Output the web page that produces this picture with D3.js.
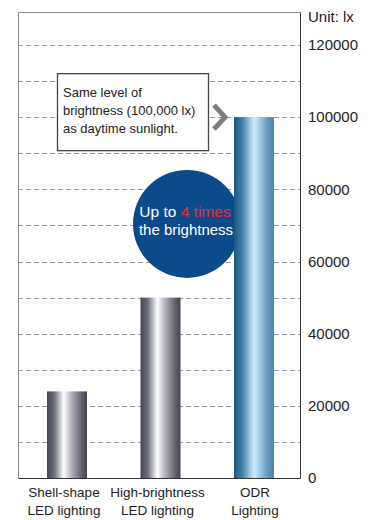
<!DOCTYPE html>
<html>
<head>
<meta charset="utf-8">
<script src="https://cdn.jsdelivr.net/npm/d3@7"></script>
<style>
html,body{margin:0;padding:0;background:#fff;}
svg{display:block;font-family:"Liberation Sans",Arial,Helvetica,sans-serif;}
</style>
</head>
<body>
<svg id="chart" width="368" height="520"></svg>
<script>
const categories = ["Shell-shape", "High-brightness", "ODR"];
const categoryLines = [["Shell-shape", "LED lighting"], ["High-brightness", "LED lighting"], ["ODR", "Lighting"]];
const values = [24000, 50000, 100000];
const tickValues = [0, 20000, 40000, 60000, 80000, 100000, 120000];
const gridValues = [10000, 20000, 30000, 40000, 50000, 60000, 70000, 80000, 90000, 100000, 110000, 120000];
const unitLabel = "Unit: lx";
const calloutLines = ["Same level of", "brightness (100,000 lx)", "as daytime sunlight."];
const calloutValue = 100000;

(function () {
const svg = d3.select("#chart");
const pL = 18, pR = 300, pT = 12, pB = 478;
const y = d3.scaleLinear().domain([0, 120000]).range([pB, 45]);
const x = d3.scalePoint().domain(categories).range([67, 254]);
const barW = 40;

// gradients
const defs = svg.append("defs");
const grayGrad = defs.append("linearGradient").attr("id", "gGray").attr("x1", "0").attr("x2", "1").attr("y1", "0").attr("y2", "0");
[[0, "#434553"], [0.18, "#6c6e7b"], [0.42, "#ffffff"], [0.6, "#b5b6c0"], [0.85, "#656773"], [1, "#414351"]].forEach(s =>
  grayGrad.append("stop").attr("offset", s[0]).attr("stop-color", s[1]));
const blueGrad = defs.append("linearGradient").attr("id", "gBlue").attr("x1", "0").attr("x2", "1").attr("y1", "0").attr("y2", "0");
[[0, "#1a5780"], [0.2, "#3f7fa6"], [0.5, "#cfe9f8"], [0.62, "#a9d0ea"], [0.85, "#6497bd"], [1, "#4f83aa"]].forEach(s =>
  blueGrad.append("stop").attr("offset", s[0]).attr("stop-color", s[1]));

// gridlines
svg.append("g").selectAll("line").data(gridValues).join("line")
  .attr("x1", pL).attr("x2", pR)
  .attr("y1", d => Math.round(y(d)) + 0.5).attr("y2", d => Math.round(y(d)) + 0.5)
  .attr("stroke", "#9a9a9a").attr("stroke-width", 1).attr("stroke-dasharray", "5,3");

// frame
svg.append("path")
  .attr("d", `M${pL + 0.5},${pB + 0.5} L${pL + 0.5},${pT + 0.5} L${pR + 0.5},${pT + 0.5}`)
  .attr("fill", "none").attr("stroke", "#8a8a8a").attr("stroke-width", 1);
svg.append("path")
  .attr("d", `M${pR + 0.5},${pT + 0.5} L${pR + 0.5},${pB + 0.5} L${pL + 0.5},${pB + 0.5}`)
  .attr("fill", "none").attr("stroke", "#333").attr("stroke-width", 1);

// y axis labels (right side)
const yAxis = d3.axisRight(y).tickValues(tickValues).tickSize(0).tickPadding(8).tickFormat(d3.format("d"));
const ga = svg.append("g").attr("transform", `translate(${pR},0)`).call(yAxis);
ga.select(".domain").remove();
ga.selectAll("text").attr("font-size", 15).attr("fill", "#222").attr("font-family", "Liberation Sans, Arial, sans-serif");

svg.append("text").attr("x", 308).attr("y", 22).attr("font-size", 15).attr("fill", "#222").text(unitLabel);

// circle callout (behind ODR bar)
const cx = 187, cy = y(70000) - 1.5;
svg.append("circle").attr("cx", cx).attr("cy", cy).attr("r", 54).attr("fill", "#0b4a8b");
const ct = svg.append("text").attr("x", cx - 2).attr("y", cy - 7).attr("text-anchor", "middle").attr("font-size", 15.5).attr("fill", "#fff");
ct.append("tspan").text("Up to ");
ct.append("tspan").attr("fill", "#ee2a33").text("4 times");
svg.append("text").attr("x", cx - 1).attr("y", cy + 11).attr("text-anchor", "middle").attr("font-size", 15).attr("fill", "#fff").text("the brightness");

// bars
svg.append("g").selectAll("rect").data(values).join("rect")
  .attr("x", (d, i) => x(categories[i]) - barW / 2)
  .attr("width", barW)
  .attr("y", d => y(d))
  .attr("height", d => pB - y(d))
  .attr("fill", (d, i) => i === 2 ? "url(#gBlue)" : "url(#gGray)");

// category labels
categoryLines.forEach((lines, i) => {
  const t = svg.append("text").attr("text-anchor", "middle").attr("font-size", 13.5).attr("fill", "#222");
  lines.forEach((l, j) => t.append("tspan").attr("x", x(categories[i]) - 3 + (i === 2 ? 4 : 0)).attr("y", 497 + j * 18).text(l));
});

// text callout box
const by = y(calloutValue);
svg.append("rect").attr("x", 57.5).attr("y", by - 43.5).attr("width", 151).attr("height", 77)
  .attr("fill", "#fff").attr("stroke", "#444").attr("stroke-width", 1.3);
const bt = svg.append("text").attr("font-size", 13).attr("fill", "#222");
calloutLines.forEach((l, j) => bt.append("tspan").attr("x", 63).attr("y", by - 20 + j * 18).text(l));

// chevron
svg.append("polyline")
  .attr("points", `${214},${by - 12} ${225},${by} ${214},${by + 12}`)
  .attr("fill", "none").attr("stroke", "#7d7d7d").attr("stroke-width", 5).attr("stroke-linejoin", "miter");
})();
</script>
</body>
</html>
